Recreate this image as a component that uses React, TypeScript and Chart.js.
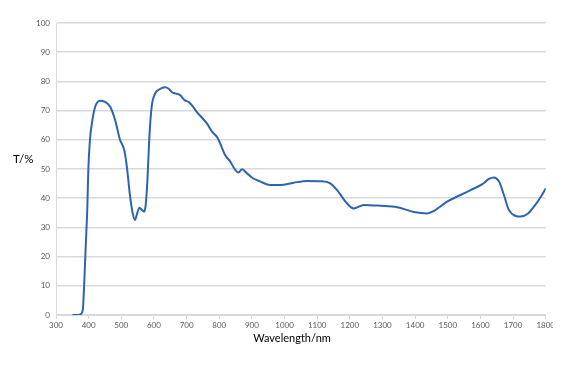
import React, { useEffect, useRef } from "react";
import { Chart, registerables } from "chart.js";

Chart.register(...registerables);

const wavelengths = [
  350, 360, 370, 376, 382, 386, 391, 396, 399, 404, 410, 420, 435, 450, 466, 481, 496, 509, 517, 527,
  535, 542, 549, 556, 563, 570, 575, 580, 586, 593, 604, 617, 634, 645, 655, 665, 680, 695, 706, 720,
  731, 745, 762, 778, 793, 800, 818, 834, 849, 859, 870, 885, 900, 926, 956, 987, 1028, 1069, 1110, 1140,
  1161, 1187, 1212, 1243, 1294, 1345, 1396, 1437, 1457, 1498, 1539, 1570, 1606, 1626, 1641, 1657, 1672, 1687, 1708, 1723,
  1744, 1764, 1785, 1800,
];
const transmittance = [
  0, 0, 0, 0.3, 1.7, 9.7, 23.4, 37, 49.7, 60, 65.7, 71.3, 73.4, 73, 71.3, 66.8, 60, 56.5, 50.8, 40.5,
  34.8, 32.5, 35, 36.7, 36, 35.4, 38, 46.2, 61, 71.3, 75.9, 77.3, 78, 77.5, 76.3, 75.9, 75.3, 73.5, 73, 71.3,
  69.6, 67.8, 65.6, 62.8, 61, 59.5, 54.8, 52.5, 49.7, 48.8, 49.9, 48.5, 47.1, 45.7, 44.5, 44.5, 45.3, 45.9, 45.8, 45.1,
  42.8, 38.8, 36.5, 37.7, 37.4, 36.9, 35.3, 34.8, 35.6, 38.8, 41.1, 42.8, 44.8, 46.6, 47.1, 45.7, 41.1, 36, 33.9, 33.7,
  34.6, 37.1, 40.5, 43.4,
];
const xTitle = "Wavelength/nm";
const yTitle = "T/%";

const titlePlugin = {
  id: "customTitles",
  afterDraw(chart: any) {
    const ctx = chart.ctx;
    ctx.save();
    ctx.fillStyle = "#000000";
    ctx.textBaseline = "middle";
    ctx.textAlign = "left";
    ctx.font = "11.5px Lato";
    ctx.fillText(yTitle, 5, 151);
    ctx.font = "11px Lato";
    ctx.textAlign = "center";
    ctx.fillText(xTitle, 284, 330);
    ctx.restore();
  },
};

export default function App() {
  const ref = useRef<HTMLCanvasElement | null>(null);
  useEffect(() => {
    if (!ref.current) return;
    const chart = new Chart(ref.current, {
      type: "line",
      data: {
        datasets: [
          {
            data: wavelengths.map((w, i) => ({ x: w, y: transmittance[i] })),
            borderColor: "#2E63B0",
            borderWidth: 2,
            pointRadius: 0,
            fill: false,
            cubicInterpolationMode: "monotone",
          },
        ],
      },
      options: {
        animation: false,
        responsive: false,
        layout: { padding: { left: 0, right: 8, top: 15, bottom: 0 } },
        plugins: { legend: { display: false }, tooltip: { enabled: false } },
        scales: {
          x: {
            type: "linear",
            min: 300,
            max: 1800,
            afterFit: (s: any) => {
              s.height = 58;
            },
            ticks: {
              stepSize: 100,
              autoSkip: false,
              maxRotation: 0,
              color: "#595959",
              font: { family: "Lato", size: 8 },
              padding: 2,
              callback: (v: any) => String(v),
            },
            grid: { drawOnChartArea: false, drawTicks: true, tickLength: 4, color: "#D9D9D9" },
            border: { color: "#D9D9D9", width: 1 },
          },
          y: {
            min: 0,
            max: 100,
            afterFit: (s: any) => {
              s.width = 48;
            },
            ticks: {
              stepSize: 10,
              color: "#595959",
              font: { family: "Lato", size: 8 },
              padding: 6,
              callback: (v: any) => String(v),
            },
            grid: { color: "#D9D9D9", lineWidth: 1.5, drawTicks: false },
            border: { color: "#D9D9D9", width: 1 },
          },
        },
      },
      plugins: [titlePlugin],
    });
    return () => chart.destroy();
  }, []);
  return <canvas ref={ref} width={549} height={365} style={{ display: "block" }} />;
}
